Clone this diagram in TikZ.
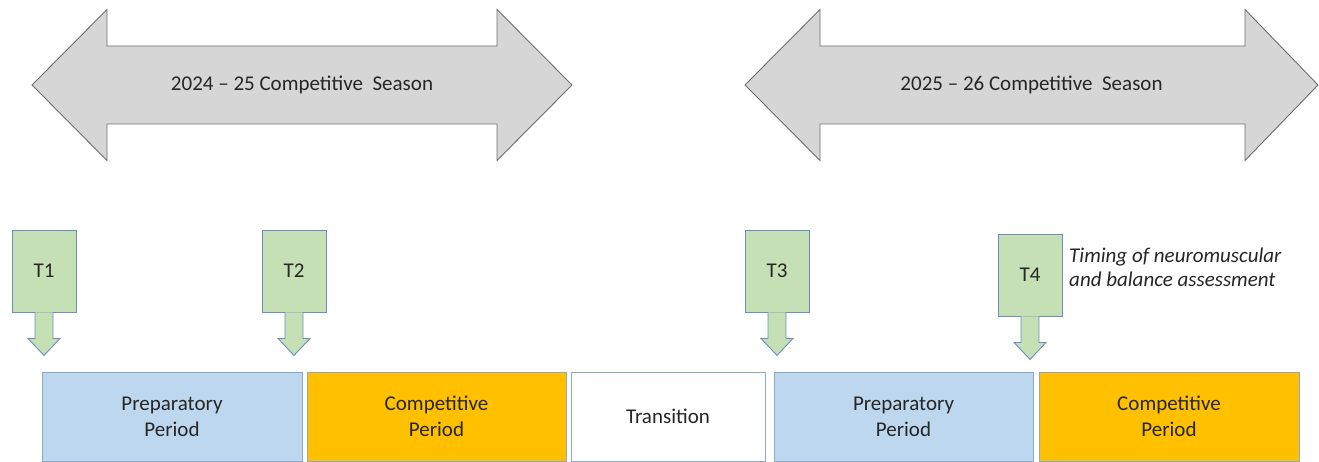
\documentclass[tikz,border=0pt]{standalone}
\usepackage{fontspec}
\setmainfont{Carlito}
\usetikzlibrary{calc}
\definecolor{seasonfill}{HTML}{D6D6D6}
\definecolor{seasonline}{HTML}{6E6E6E}
\definecolor{tagfill}{HTML}{C5E0B4}
\definecolor{tagline}{HTML}{6A8FBF}
\definecolor{prepfill}{HTML}{BDD7EE}
\definecolor{compfill}{HTML}{FFC000}
\definecolor{periodline}{HTML}{8EA9C8}
\definecolor{txt}{HTML}{262626}
\begin{document}
\begin{tikzpicture}[x=1pt,y=-1pt,
  every node/.style={text=txt, font=\fontsize{21}{26}\selectfont},
  season/.style={draw=seasonline, fill=seasonfill, line width=0.9pt, line join=miter},
  seasontext/.style={inner sep=0pt},
  tagbox/.style={draw=tagline, fill=tagfill, line width=0.9pt, minimum width=64pt, minimum height=82pt, inner sep=0pt},
  tagarrow/.style={draw=tagline, fill=tagfill, line width=0.9pt},
  period/.style={draw=periodline, line width=0.9pt, minimum height=89pt, inner sep=0pt, align=center},
  note/.style={inner sep=0pt, align=left, font=\fontsize{21}{24}\selectfont\itshape}
]
\useasboundingbox (0,0) rectangle (1319,462);

% season arrows
\draw[season] (32,85) -- (107,9.5) -- (107,46) -- (497,46) -- (497,9.5) -- (572,85)
  -- (497,160.5) -- (497,124) -- (107,124) -- (107,160.5) -- cycle;
\node[seasontext] (s1) at (302,85) {2024 -- 25 Competitive\ \ Season};
\draw[season] (745,85) -- (820,9.5) -- (820,46) -- (1245,46) -- (1245,9.5) -- (1318,85)
  -- (1245,160.5) -- (1245,124) -- (820,124) -- (820,160.5) -- cycle;
\node[seasontext] (s2) at (1031.5,85) {2025 -- 26 Competitive\ \ Season};

% timing tags
\newcommand\tagdown[1]{%
  \path[tagarrow] ([xshift=-9pt]#1.south) -- ++(0,26) -- ++(-7,0) -- ++(16,17)
    -- ++(16,-17) -- ++(-7,0) -- ++(0,-26);}
\node[tagbox] (t1) at (44,271) {T1};
\tagdown{t1}
\node[tagbox] (t2) at (294,271) {T2};
\tagdown{t2}
\node[tagbox] (t3) at (777,271) {T3};
\tagdown{t3}
\node[tagbox] (t4) at (1030,275) {T4};
\tagdown{t4}

\node[note, anchor=west] (note) at (1069,267) {Timing of neuromuscular\\and balance assessment};

% periods
\node[period, fill=prepfill, minimum width=260pt] (p1) at (172,416.5) {Preparatory\\Period};
\node[period, fill=compfill, minimum width=259pt] (p2) at (436.5,416.5) {Competitive\\Period};
\node[period, fill=white, minimum width=194pt] (p3) at (668,416.5) {Transition};
\node[period, fill=prepfill, minimum width=259pt] (p4) at (903.5,416.5) {Preparatory\\Period};
\node[period, fill=compfill, minimum width=260pt] (p5) at (1169,416.5) {Competitive\\Period};
\end{tikzpicture}
\end{document}
